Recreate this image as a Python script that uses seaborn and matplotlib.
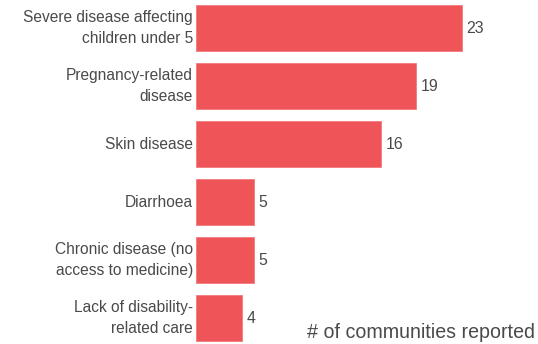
import matplotlib
matplotlib.use("Agg")
import matplotlib.pyplot as plt
import seaborn as sns
import pandas as pd

categories = [
    "Severe disease affecting\nchildren under 5",
    "Pregnancy-related\ndisease",
    "Skin disease",
    "Diarrhoea",
    "Chronic disease (no\naccess to medicine)",
    "Lack of disability-\nrelated care",
]
values = [23, 19, 16, 5, 5, 4]
axis_note = "# of communities reported"

sns.set_theme(style="white")
plt.rcParams['font.family'] = ['Liberation Sans', 'DejaVu Sans']

df = pd.DataFrame({"cat": categories, "val": values})

fig = plt.figure(figsize=(5.38, 3.44), dpi=100)
ax = fig.add_axes([196/538, 0, (538-196)/538, 1])
sns.barplot(data=df, y="cat", x="val", orient="h", color="#EF5558",
            width=46/58, saturation=1, ax=ax, edgecolor="#F27A7C", linewidth=0.6)
ax.set_xlim(0, (538-196)/(266/23))
ax.set_ylim(5.448, -0.483)
ax.set_xlabel("")
ax.set_ylabel("")
ax.set_xticks([])
ax.set_yticks([])
for s in ax.spines.values():
    s.set_visible(False)
ax.patch.set_alpha(0)

for i, (c, v) in enumerate(zip(categories, values)):
    ax.text(-0.25, i, c, ha="right", va="center", fontsize=11.2, color="#4a4a4a",
            linespacing=1.52)
    ax.text(v + 0.4, i, str(v), ha="left", va="center", fontsize=11.4, color="#4a4a4a")

fig.text(535/538, 1 - 332/344, axis_note, ha="right", va="center", fontsize=14.1,
         color="#4a4a4a")

fig.savefig("out.png", dpi=100)
